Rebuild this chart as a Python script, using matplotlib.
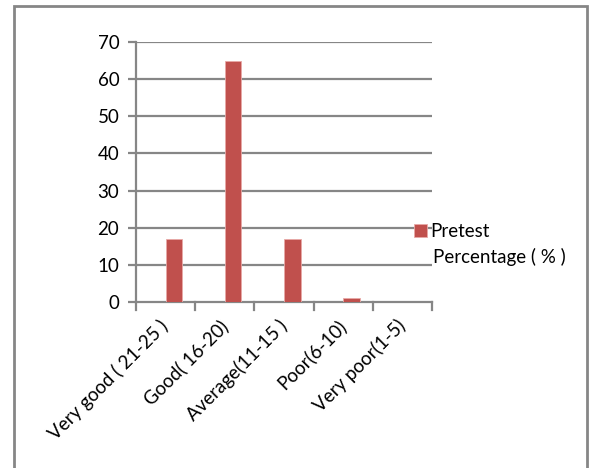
import matplotlib
matplotlib.use("Agg")
import matplotlib.pyplot as plt
from matplotlib.patches import Rectangle
import numpy as np

categories = ["Very good ( 21-25 )", "Good( 16-20)", "Average(11-15 )",
              "Poor(6-10)", "Very poor(1-5)"]
pretest_pct = [17, 65, 17, 1, 0]
series_label = "Pretest"
series_label_2 = "Percentage ( % )"
y_ticks = [0, 10, 20, 30, 40, 50, 60, 70]

bar_color = "#C0504D"
grid_color = "#868686"
font = ["Lato", "DejaVu Sans"]
plt.rcParams["font.family"] = font
fs = 13.5

W, H = 589, 468
fig = plt.figure(figsize=(W / 100, H / 100), dpi=100)

# outer chart frame (bottom edge runs off the image)
fig.patches.append(Rectangle((13.5 / W, -0.05), (587 - 13.5) / W, 1.05 - 6.5 / H,
                             transform=fig.transFigure, fill=False,
                             edgecolor=grid_color, linewidth=2.0))

left, right = 136 / W, 432 / W
bottom, top = 1 - 302 / H, 1 - 42 / H
ax = fig.add_axes([left, bottom, right - left, top - bottom])

x = np.arange(len(categories))
ax.bar(x, pretest_pct, width=0.28, align="edge", color=bar_color,
       edgecolor="#E8A9A7", linewidth=0.6, label=series_label, zorder=3)

ax.set_xlim(-0.5, len(categories) - 0.5)
ax.set_ylim(0, 70)
ax.set_yticks(y_ticks)
ax.set_yticklabels([str(v) for v in y_ticks], fontsize=fs)
for v in y_ticks[1:]:
    ax.axhline(v, color=grid_color, linewidth=1.6, zorder=1)

ax.set_xticks(x)
ax.set_xticklabels(categories, rotation=45, ha="right", va="center",
                   rotation_mode="anchor", fontsize=fs)
ax.tick_params(axis="x", length=0, pad=15)
# category boundary tick marks
for b in np.arange(-0.5, len(categories), 1.0):
    ax.plot([b, b], [0, -2.1], color=grid_color, linewidth=1.6,
            clip_on=False, zorder=2)
ax.tick_params(axis="y", length=6, width=1.6, color=grid_color, pad=6)

for side in ["top", "right"]:
    ax.spines[side].set_visible(False)
for side in ["left", "bottom"]:
    ax.spines[side].set_color(grid_color)
    ax.spines[side].set_linewidth(1.6)

leg = ax.legend(loc="center left", bbox_to_anchor=(0.94, 0.27),
                frameon=False, fontsize=fs, handlelength=0.7,
                handleheight=0.7, handletextpad=0.15, borderaxespad=0,
                borderpad=0)
fig.text(433 / W, 1 - 257 / H, series_label_2, fontsize=fs,
         ha="left", va="center")

fig.savefig("out.png", dpi=100)
